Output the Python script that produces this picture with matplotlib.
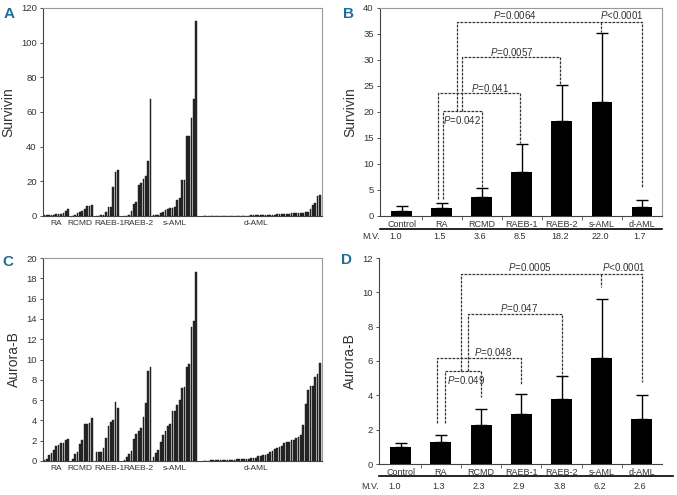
import matplotlib
matplotlib.use("Agg")
import matplotlib.pyplot as plt
from matplotlib.transforms import blended_transform_factory
from matplotlib.lines import Line2D
import numpy as np

plt.rcParams['font.family'] = ['Liberation Sans', 'DejaVu Sans']
plt.rcParams['mathtext.fontset'] = 'custom'
plt.rcParams['mathtext.it'] = 'Liberation Sans:italic'
plt.rcParams['mathtext.rm'] = 'Liberation Sans'

# ---------------- data ----------------
groups = ["RA", "RCMD", "RAEB-1", "RAEB-2", "s-AML", "d-AML"]

surv_RA = [0.3, 0.4, 0.5, 0.6, 0.8, 1.0, 1.1, 1.3, 1.6, 2.9, 3.9]
surv_RCMD = [0.2, 0.6, 1.5, 2.4, 2.8, 3.8, 5.8, 6.0, 6.1]
surv_RAEB1 = [0.1, 0.2, 0.5, 0.7, 2.2, 5.2, 5.2, 16.8, 25.5, 26.3]
surv_RAEB2 = [0.1, 0.2, 0.4, 3.0, 6.8, 7.8, 17.8, 19.3, 21.3, 23.2, 32.0, 67.5]
surv_sAML = [0.3, 0.5, 0.8, 1.5, 2.5, 3.3, 4.0, 4.5, 4.8, 5.0, 9.5, 10.5,
             20.7, 21.0, 46.3, 46.3, 56.5, 67.3, 112.5]
surv_dAML = [0.05, 0.05, 0.05, 0.08, 0.08, 0.1, 0.1, 0.1, 0.12, 0.12,
             0.15, 0.15, 0.15, 0.18, 0.2, 0.2, 0.2, 0.22, 0.25, 0.25,
             0.3, 0.3, 0.35, 0.35, 0.4, 0.4, 0.45, 0.5, 0.55, 0.6,
             0.8, 0.9, 1.0, 1.1, 1.2, 1.3, 1.4, 1.5, 1.5, 1.6,
             1.7, 1.8, 2.0, 2.1, 2.2, 3.8, 6.3, 7.5, 11.6, 12.0]

aur_RA = [0.05, 0.2, 0.55, 0.75, 1.1, 1.45, 1.55, 1.75, 1.8, 2.05, 2.2]
aur_RCMD = [0.2, 0.7, 0.9, 1.7, 2.1, 3.6, 3.6, 3.75, 4.2]
aur_RAEB1 = [0.85, 0.85, 0.9, 1.3, 2.3, 3.4, 3.8, 4.0, 5.85, 5.2]
aur_RAEB2 = [0.1, 0.4, 0.65, 1.0, 2.2, 2.65, 3.0, 3.3, 4.3, 5.7, 8.9, 9.3]
aur_sAML = [0.4, 0.75, 1.1, 1.85, 2.6, 2.95, 3.45, 3.6, 4.9, 4.9, 5.55, 6.0,
            7.2, 7.25, 9.3, 9.6, 13.2, 13.8, 18.6]
aur_dAML = [0.02, 0.03, 0.04, 0.05, 0.05, 0.06, 0.07, 0.08, 0.09, 0.1,
            0.11, 0.12, 0.13, 0.14, 0.15, 0.16, 0.17, 0.18, 0.2, 0.22,
            0.25, 0.28, 0.3, 0.45, 0.5, 0.55, 0.6, 0.7, 0.85, 1.0,
            1.15, 1.3, 1.4, 1.5, 1.75, 1.85, 1.9, 2.05, 2.1, 2.3,
            2.4, 2.6, 3.5, 5.6, 7.0, 7.4, 7.4, 8.3, 8.6, 9.7]

categories = ["Control", "RA", "RCMD", "RAEB-1", "RAEB-2", "s-AML", "d-AML"]
surv_mean = [1.0, 1.5, 3.6, 8.5, 18.2, 22.0, 1.7]
surv_err = [1.0, 1.0, 1.7, 5.3, 6.9, 13.1, 1.3]
surv_mv = ["1.0", "1.5", "3.6", "8.5", "18.2", "22.0", "1.7"]

aur_mean = [1.0, 1.3, 2.3, 2.9, 3.8, 6.2, 2.6]
aur_err = [0.25, 0.4, 0.9, 1.15, 1.35, 3.4, 1.4]
aur_mv = ["1.0", "1.3", "2.3", "2.9", "3.8", "6.2", "2.6"]

# ---------------- layout ----------------
W, H = 677, 495
fig = plt.figure(figsize=(W / 100, H / 100), dpi=100)

def ax_px(l, t, r, b):
    return fig.add_axes([l / W, 1 - b / H, (r - l) / W, (b - t) / H])

axA = ax_px(43, 8, 322, 216)
axB = ax_px(380, 8, 662, 216)
axC = ax_px(43, 258, 322, 461)
axD = ax_px(379, 258, 662, 464)

letter_color = '#1d6f98'
for txt, (x, y) in zip("ABCD", [(9, 14), (348, 14), (8, 262), (347, 260)]):
    fig.text(x / W, 1 - y / H, txt, color=letter_color, fontsize=11,
             fontweight='bold', ha='center', va='center')

gaps = [0, 1.0, 1.0, 1.8, 0.3, 2.2]
label_shift = [0, -0.9, 0.9, 0.3, 0, -2.5]
TXT = '#333333'

def waterfall(ax, series, ylim, yticks, ylabel):
    x0 = 0.6
    centers = []
    for g, vals in enumerate(series):
        x0 += gaps[g]
        xs = x0 + np.arange(len(vals))
        ax.bar(xs, vals, width=0.72, color='#2b2b2b', edgecolor='#111111',
               linewidth=0.3)
        centers.append(xs.mean() + label_shift[g])
        x0 = xs[-1] + 1
    ax.set_xlim(0, x0 - 0.1)
    ax.set_ylim(*ylim)
    ax.set_yticks(yticks)
    ax.set_xticks(centers)
    ax.set_xticklabels(groups, fontsize=6, color=TXT)
    ax.tick_params(axis='x', length=0, pad=3)
    ax.tick_params(axis='y', labelsize=6.8, length=2.5, width=0.6,
                   colors=TXT, pad=2)
    ax.set_ylabel(ylabel, fontsize=10, color=TXT, labelpad=4)
    for s in ['left', 'bottom']:
        ax.spines[s].set_color('#444444')
        ax.spines[s].set_linewidth(0.8)
    for s in ['top', 'right']:
        ax.spines[s].set_color('#999999')
        ax.spines[s].set_linewidth(0.8)

waterfall(axA, [surv_RA, surv_RCMD, surv_RAEB1, surv_RAEB2, surv_sAML, surv_dAML],
          (0, 120), range(0, 121, 20), "Survivin")
waterfall(axC, [aur_RA, aur_RCMD, aur_RAEB1, aur_RAEB2, aur_sAML, aur_dAML],
          (0, 20), range(0, 21, 2), "Aurora-B")

dash = dict(color='#333333', linestyle=(0, (2.2, 1.0)), linewidth=0.9)

def summary(ax, means, errs, mvs, ylim, yticks, ylabel, boxed, line_right, mv_y, line_y):
    x = np.arange(len(categories))
    ax.bar(x, means, width=0.52, color='black', zorder=2)
    ax.errorbar(x, means, yerr=[np.zeros(len(errs)), errs], fmt='none',
                ecolor='black', elinewidth=1.0, capsize=4.5, capthick=1.0, zorder=3)
    ax.set_xlim(-0.54, 6.5)
    ax.set_ylim(*ylim)
    ax.set_yticks(yticks)
    ax.set_xticks(x)
    ax.set_xticklabels(categories, fontsize=6.5, color=TXT)
    ax.set_xticks(x[:-1] + 0.5, minor=True)
    ax.tick_params(axis='x', which='major', length=0, pad=3)
    ax.tick_params(axis='x', which='minor', length=3, width=0.6, color='#555555')
    ax.tick_params(axis='y', labelsize=6.8, length=2.5, width=0.6,
                   colors=TXT, pad=2)
    ax.set_ylabel(ylabel, fontsize=10, color=TXT, labelpad=4)
    for s in ['left', 'bottom']:
        ax.spines[s].set_color('#444444')
        ax.spines[s].set_linewidth(0.8)
    for s in ['top', 'right']:
        if boxed:
            ax.spines[s].set_color('#999999')
            ax.spines[s].set_linewidth(0.8)
        else:
            ax.spines[s].set_visible(False)
    ax.add_line(Line2D([0, line_right], [line_y, line_y], transform=ax.transAxes,
                       color='black', linewidth=1.2, clip_on=False))
    tr = blended_transform_factory(ax.transData, ax.transAxes)
    ax.text(0.0, mv_y, "M.V.", transform=ax.transAxes,
            fontsize=6.5, ha='right', va='center', color=TXT)
    for xi, m in zip(x, mvs):
        ax.text(xi - (0.15 if xi == 0 else 0.05), mv_y, m, transform=tr,
                fontsize=6.5, ha='center', va='center', color=TXT)

def bracket(ax, x1, y1, x2, y2, ytop):
    ax.plot([x1, x1, x2, x2], [y1, ytop, ytop, y2], **dash, zorder=1)

def vline(ax, x, y1, y2):
    ax.plot([x, x], [y1, y2], **dash, zorder=1)

def plabel(ax, x, y, op, val):
    ax.text(x, y, r"$P$" + op + val, fontsize=7, ha='center', va='center',
            color=TXT)

# Panel B
summary(axB, surv_mean, surv_err, surv_mv, (0, 40), range(0, 41, 5), "Survivin",
        True, 1.0, -0.10, -0.0625)
bracket(axB, 1.025, 3.2, 2.0, 5.6, 20.1)
bracket(axB, 0.9, 3.2, 2.96, 14.0, 23.6)
bracket(axB, 1.5, 20.1, 3.96, 25.3, 30.5)
bracket(axB, 1.375, 20.1, 6.0, 5.3, 37.4)
vline(axB, 4.98, 37.4, 35.4)
plabel(axB, 1.52, 18.5, "=", "0.042")
plabel(axB, 2.2, 24.7, "=", "0.041")
plabel(axB, 2.75, 31.6, "=", "0.0057")
plabel(axB, 2.83, 38.6, "=", "0.0064")
plabel(axB, 5.5, 38.6, "<", "0.0001")

# Panel D
summary(axD, aur_mean, aur_err, aur_mv, (0, 12), range(0, 13, 2), "Aurora-B",
        False, 1.04, -0.107, -0.058)
bracket(axD, 1.09, 2.4, 2.0, 3.9, 5.39)
bracket(axD, 0.9, 2.4, 3.0, 4.6, 6.17)
bracket(axD, 1.67, 5.39, 4.0, 5.0, 8.73)
bracket(axD, 1.5, 5.39, 6.0, 4.8, 11.07)
vline(axD, 4.98, 11.07, 10.3)
plabel(axD, 1.63, 4.9, "=", "0.049")
plabel(axD, 2.3, 6.5, "=", "0.048")
plabel(axD, 2.95, 9.1, "=", "0.047")
plabel(axD, 3.2, 11.45, "=", "0.0005")
plabel(axD, 5.55, 11.45, "<", "0.0001")

fig.savefig("out.png", dpi=100)
